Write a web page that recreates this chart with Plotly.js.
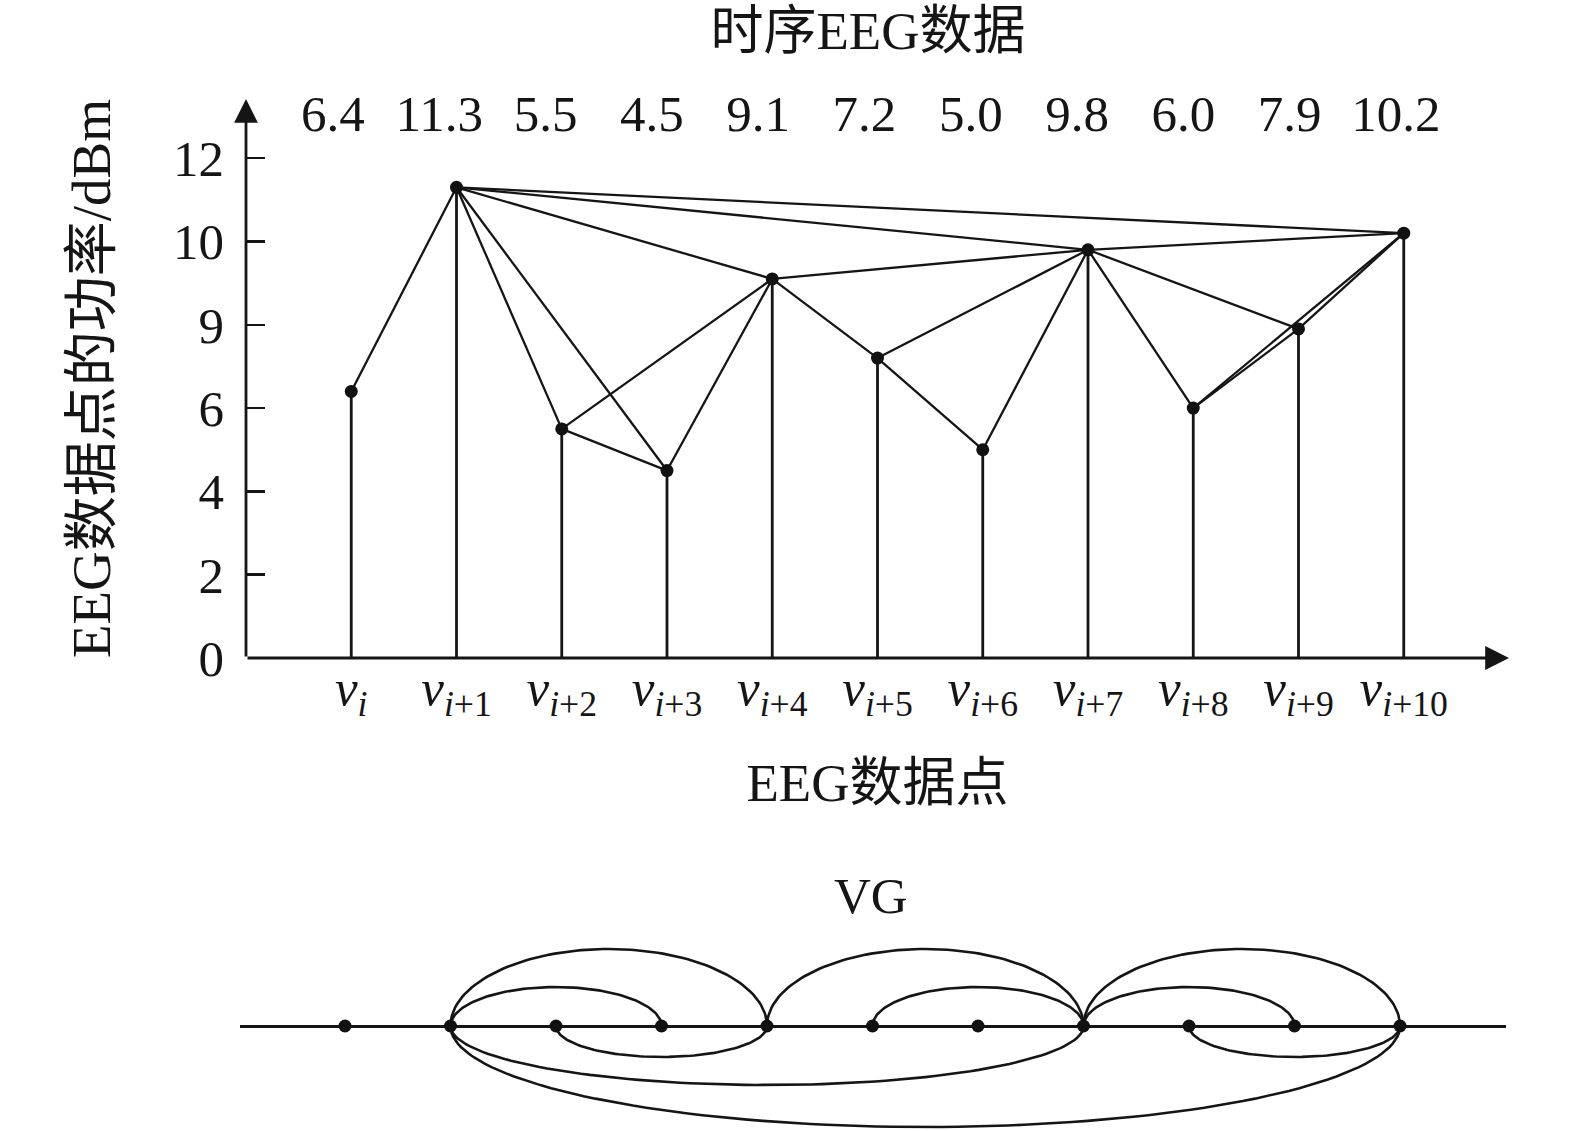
<!DOCTYPE html>
<html><head><meta charset="utf-8">
<script src="https://cdn.plot.ly/plotly-3.0.1.min.js"></script>
<style>html,body{margin:0;padding:0;background:#fff}#chart{width:1575px;height:1131px}</style>
</head><body><div id="chart"></div>
<script>
// ---- data ----
const subscripts = ['i','i+1','i+2','i+3','i+4','i+5','i+6','i+7','i+8','i+9','i+10'];
const values = [6.4, 11.3, 5.5, 4.5, 9.1, 7.2, 5.0, 9.8, 6.0, 7.9, 10.2];
const valueLabels = ['6.4','11.3','5.5','4.5','9.1','7.2','5.0','9.8','6.0','7.9','10.2'];
const yTickVals = [0, 2, 4, 6, 8, 10, 12];
const yTickText = ['0', '2', '4', '6', '9', '10', '12'];
// arc drawing in the VG strip (sign = side, magnitude = bulge in px)
const vgArcBulge = {'1-3': 39, '1-4': 77, '4-7': 77, '5-7': 39, '7-9': 39, '7-10': 77,
                    '2-4': -31, '1-7': -59, '1-10': -101, '8-10': -31};

// ---- derived ----
const idx = values.map((_, i) => i);
const tickText = subscripts.map(s => {
  const m = s.match(/^i(.*)$/);
  return '<i>v</i><sub><i>i</i>' + m[1] + '</sub>';
});
function visible(a, b) {
  for (let c = a + 1; c < b; c++) {
    const yc = values[b] + (values[a] - values[b]) * (b - c) / (b - a);
    if (values[c] >= yc) return false;
  }
  return true;
}
const edges = [];
for (let a = 0; a < values.length; a++)
  for (let b = a + 1; b < values.length; b++)
    if (visible(a, b)) edges.push([a, b]);

const stemX = [], stemY = [];
idx.forEach(i => { stemX.push(i, i, null); stemY.push(0, values[i], null); });
const edgeX = [], edgeY = [];
edges.forEach(([a, b]) => { edgeX.push(a, b, null); edgeY.push(values[a], values[b], null); });

const arcX = [], arcY = [];
edges.forEach(([a, b]) => {
  if (b - a < 2) return;
  const h = vgArcBulge[a + '-' + b];
  if (h === undefined) return;
  const N = 90;
  for (let k = 0; k <= N; k++) {
    const t = Math.PI * k / N;
    arcX.push((a + b) / 2 - (b - a) / 2 * Math.cos(t));
    arcY.push(h * Math.sin(t));
  }
  arcX.push(null); arcY.push(null);
});

const FONT = "'Liberation Serif', 'Noto Sans CJK SC', serif";
const W = 1575, H = 1131;
const px = v => v / W, py = v => 1 - v / H;
const Y_TOP = 13.42;

const traces = [
  {x: stemX, y: stemY, mode: 'lines', line: {color: '#151515', width: 2.8}, hoverinfo: 'skip', xaxis: 'x', yaxis: 'y'},
  {x: edgeX, y: edgeY, mode: 'lines', line: {color: '#151515', width: 2.3}, hoverinfo: 'skip', xaxis: 'x', yaxis: 'y'},
  {x: idx, y: values, mode: 'markers', marker: {color: '#111', size: 13}, xaxis: 'x', yaxis: 'y'},
  {x: idx, y: idx.map(() => 12.95), mode: 'text', text: valueLabels, textposition: 'middle center',
   textfont: {family: FONT, size: 51, color: '#151515'}, cliponaxis: false, hoverinfo: 'skip', xaxis: 'x3', yaxis: 'y'},
  {x: arcX, y: arcY, mode: 'lines', line: {color: '#151515', width: 2.6}, hoverinfo: 'skip', xaxis: 'x2', yaxis: 'y2'},
  {x: idx, y: idx.map(() => 0), mode: 'markers', marker: {color: '#111', size: 13}, xaxis: 'x2', yaxis: 'y2'}
];

const layout = {
  width: W, height: H,
  margin: {l: 0, r: 0, t: 0, b: 0},
  paper_bgcolor: '#fff', plot_bgcolor: 'rgba(0,0,0,0)',
  showlegend: false,
  font: {family: FONT, color: '#151515', size: 50},
  title: {text: '时序EEG数据', x: px(868), xanchor: 'center', y: py(30), yanchor: 'middle', yref: 'container',
          font: {family: FONT, size: 53, color: '#151515'}},
  xaxis: {
    domain: [px(246), px(1509)], range: [-1, 11], anchor: 'y',
    tickmode: 'array', tickvals: idx, ticktext: tickText, ticks: '',
    showgrid: false, zeroline: false, showline: false,
    tickfont: {family: FONT, size: 51, color: '#151515'}, ticklabelstandoff: -5,
    title: {text: 'EEG数据点', font: {family: FONT, size: 53, color: '#151515'}, standoff: 41}
  },
  // helper axis for the value labels row (slightly wider spacing than the points)
  xaxis3: {
    domain: [px(226.7), px(1502.3)], range: [-1, 11], anchor: 'y',
    visible: false, showgrid: false, zeroline: false
  },
  yaxis: {
    domain: [1 - 658 / H, 1 - 99 / H], range: [0, Y_TOP], anchor: 'x',
    tickmode: 'array', tickvals: yTickVals, ticktext: yTickText,
    ticks: 'inside', ticklen: 19, tickwidth: 2.5, tickcolor: '#151515',
    showgrid: false, zeroline: false, showline: false,
    tickfont: {family: FONT, size: 51, color: '#151515'}, ticklabelstandoff: 21,
    title: {text: 'EEG数据点的功率/dBm', font: {family: FONT, size: 55, color: '#151515'}, standoff: 44}
  },
  xaxis2: {
    domain: [px(239.5), px(1505.5)], range: [-1, 11], anchor: 'y2',
    showticklabels: false, ticks: '', showgrid: false, zeroline: false, showline: false
  },
  yaxis2: {
    domain: [0, 1 - 930 / H], range: [-105, 96], anchor: 'x2',
    showticklabels: false, ticks: '', showgrid: false,
    zeroline: true, zerolinecolor: '#151515', zerolinewidth: 3, showline: false
  },
  annotations: [
    {xref: 'x', yref: 'y', axref: 'x', ayref: 'y', x: 11, y: 0, ax: -1, ay: 0, text: '',
     showarrow: true, arrowhead: 2, arrowsize: 1.7, arrowwidth: 2.8, arrowcolor: '#151515'},
    {xref: 'x', yref: 'y', axref: 'x', ayref: 'y', x: -1, y: Y_TOP, ax: -1, ay: 0, text: '',
     showarrow: true, arrowhead: 2, arrowsize: 1.7, arrowwidth: 2.8, arrowcolor: '#151515'},
    {xref: 'paper', yref: 'paper', x: px(871), y: py(896), xanchor: 'center', yanchor: 'middle',
     text: 'VG', showarrow: false, font: {family: FONT, size: 51, color: '#151515'}}
  ]
};

Plotly.newPlot('chart', traces, layout, {staticPlot: true, displayModeBar: false});
</script>
</body></html>
